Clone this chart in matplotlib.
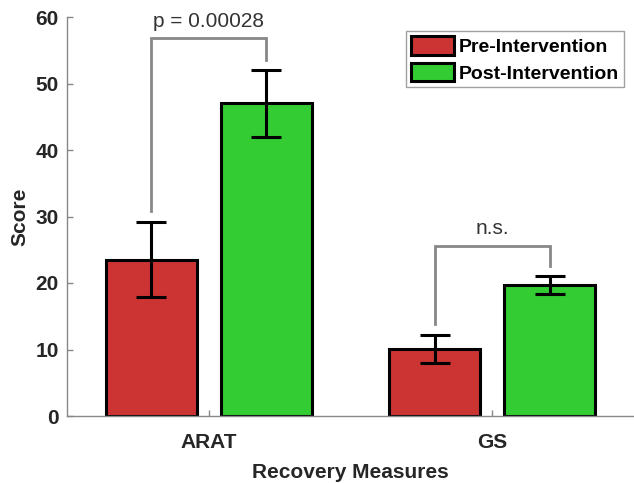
import matplotlib
matplotlib.use("Agg")
import matplotlib.pyplot as plt
import numpy as np
from matplotlib.patches import Patch

categories = ["ARAT", "GS"]
series_names = ["Pre-Intervention", "Post-Intervention"]
pre_mean = [23.5, 10.1]
post_mean = [47.0, 19.7]
pre_lo = [17.9, 7.9]
pre_hi = [29.1, 12.2]
post_lo = [42.0, 18.3]
post_hi = [52.0, 21.0]
bracket_labels = ["p = 0.00028", "n.s."]
bracket_top = [56.8, 25.6]
bracket_left_low = [30.8, 13.8]
bracket_right_low = [53.6, 22.6]

colors = ["#CC3333", "#33CC33"]
plt.rcParams['font.family'] = ['Liberation Sans', 'DejaVu Sans']

fig = plt.figure(figsize=(6.34, 4.83), dpi=100)
ax = fig.add_axes([67/634, 1-416/483, (634-67)/634, (416-17)/483])

x = np.arange(1, len(categories) + 1)
off = 0.203
w = 0.322
pre = np.array(pre_mean); post = np.array(post_mean)
err_pre = [pre - np.array(pre_lo), np.array(pre_hi) - pre]
err_post = [post - np.array(post_lo), np.array(post_hi) - post]

ax.bar(x - off, pre, w, color=colors[0], edgecolor='black', linewidth=2.2, zorder=2)
ax.bar(x + off, post, w, color=colors[1], edgecolor='black', linewidth=2.2, zorder=2)
ax.errorbar(x - off, pre, yerr=err_pre, fmt='none', ecolor='black', elinewidth=2.2, capsize=11, capthick=2.2, zorder=3)
ax.errorbar(x + off, post, yerr=err_post, fmt='none', ecolor='black', elinewidth=2.2, capsize=11, capthick=2.2, zorder=3)

for i in range(len(categories)):
    xl, xr = x[i] - off, x[i] + off
    ax.plot([xl, xl, xr, xr], [bracket_left_low[i], bracket_top[i], bracket_top[i], bracket_right_low[i]],
            color='#888888', linewidth=2, solid_joinstyle='miter', zorder=4)
    ax.text(x[i], bracket_top[i] + 1.1, bracket_labels[i], ha='center', va='bottom',
            fontsize=15, color='#333333')

ax.set_xlim(0.5, 2.5)
ax.set_ylim(0, 60)
ax.set_xticks(x)
ax.set_xticklabels(categories)
ax.set_yticks(np.arange(0, 61, 10))
for lab in ax.get_xticklabels() + ax.get_yticklabels():
    lab.set_fontweight('bold')
    lab.set_fontsize(15)
    lab.set_color('#262626')
ax.tick_params(direction='in', length=4, color='#888888', width=1)
ax.tick_params(axis='x', pad=12)
ax.tick_params(axis='y', pad=6)
for s in ['top', 'right']:
    ax.spines[s].set_visible(False)
for s in ['left', 'bottom']:
    ax.spines[s].set_color('#888888')
    ax.spines[s].set_linewidth(1)

ax.set_xlabel("Recovery Measures", fontsize=15, fontweight='bold', color='#262626', labelpad=8)
ax.set_ylabel("Score", fontsize=15, fontweight='bold', color='#262626', labelpad=4)

handles = [Patch(facecolor=colors[0], edgecolor='black', linewidth=2.2),
           Patch(facecolor=colors[1], edgecolor='black', linewidth=2.2)]
leg = ax.legend(handles, series_names, loc='upper right', bbox_to_anchor=(624/634, 1-31/483),
                bbox_transform=fig.transFigure,
                prop={'weight': 'bold', 'size': 14}, frameon=True, fancybox=False,
                handlelength=2.2, handleheight=1.1, handletextpad=0.25, borderpad=0.25,
                labelspacing=0.35, borderaxespad=0)
leg.get_frame().set_edgecolor('#888888')
leg.get_frame().set_linewidth(1)

fig.savefig("out.png", dpi=100)
